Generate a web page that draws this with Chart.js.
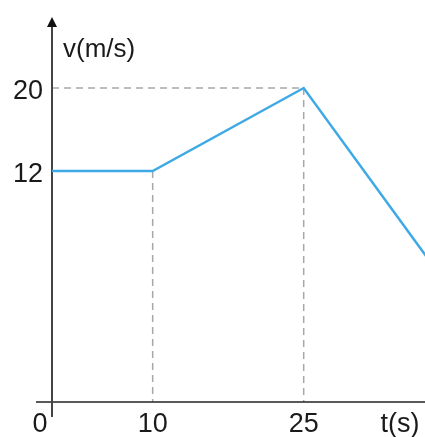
<!DOCTYPE html>
<html>
<head>
<meta charset="utf-8">
<script src="https://cdn.jsdelivr.net/npm/chart.js@4"></script>
<style>
  html, body { margin: 0; padding: 0; background: #fff; }
  canvas { display: block; }
</style>
</head>
<body>
<canvas id="vt" width="425" height="437"></canvas>
<script>
// data
const times = [0, 10, 25, 40];       // t (s)
const speeds = [12, 12, 20, 0];      // v (m/s)
const xTicks = [0, 10, 25];
const yTicks = [12, 20];
const xTitle = "t(s)";
const yTitle = "v(m/s)";

const FONT = "27px 'Liberation Sans', Arial, sans-serif";

// axes, arrow, dashed guides and labels
const axesPlugin = {
  id: "axes",
  beforeDatasetsDraw(chart) {
    const ctx = chart.ctx;
    const x = chart.scales.x, y = chart.scales.y;
    const a = chart.chartArea;
    const x0 = x.getPixelForValue(0);
    ctx.save();

    // dashed guides
    ctx.strokeStyle = "#a8a8a8";
    ctx.lineWidth = 1.5;
    ctx.setLineDash([7, 5]);
    ctx.beginPath();
    ctx.moveTo(x0, y.getPixelForValue(20));
    ctx.lineTo(x.getPixelForValue(25), y.getPixelForValue(20));
    ctx.moveTo(x.getPixelForValue(10), y.getPixelForValue(12));
    ctx.lineTo(x.getPixelForValue(10), a.bottom);
    ctx.moveTo(x.getPixelForValue(25), y.getPixelForValue(20));
    ctx.lineTo(x.getPixelForValue(25), a.bottom);
    ctx.stroke();
    ctx.setLineDash([]);

    // x axis
    ctx.strokeStyle = "#222";
    ctx.lineWidth = 1.5;
    ctx.beginPath();
    ctx.moveTo(36, a.bottom);
    ctx.lineTo(a.right, a.bottom);
    ctx.stroke();

    // y axis with arrow
    ctx.strokeStyle = "#444";
    ctx.lineWidth = 2;
    ctx.beginPath();
    ctx.moveTo(x0, a.bottom + 15);
    ctx.lineTo(x0, a.top + 8);
    ctx.stroke();
    ctx.fillStyle = "#111";
    ctx.beginPath();
    ctx.moveTo(x0, a.top - 1);
    ctx.lineTo(x0 - 5, a.top + 9);
    ctx.lineTo(x0 + 5, a.top + 9);
    ctx.closePath();
    ctx.fill();

    // labels
    ctx.fillStyle = "#1a1a1a";
    ctx.font = FONT;
    ctx.textBaseline = "alphabetic";
    ctx.textAlign = "right";
    yTicks.forEach(v => ctx.fillText(String(v), x0 - 9, y.getPixelForValue(v) + 11));
    ctx.textAlign = "center";
    xTicks.forEach(t => {
      const px = t === 0 ? x0 - 12 : x.getPixelForValue(t);
      ctx.fillText(String(t), px, a.bottom + 30);
    });
    ctx.fillText(xTitle, 400, a.bottom + 30);
    ctx.textAlign = "left";
    ctx.font = "26px 'Liberation Sans', Arial, sans-serif";
    ctx.fillText(yTitle, 63, 57);
    ctx.restore();
  }
};

new Chart(document.getElementById("vt"), {
  type: "line",
  data: {
    labels: times,
    datasets: [{
      data: times.map((t, i) => ({ x: t, y: speeds[i] })),
      borderColor: "#3fa9e6",
      borderWidth: 2.5,
      pointRadius: 0,
      tension: 0,
      fill: false
    }]
  },
  options: {
    responsive: false,
    animation: false,
    layout: { padding: { left: 52, right: 0, top: 18, bottom: 35 } },
    plugins: { legend: { display: false }, tooltip: { enabled: false } },
    scales: {
      x: { type: "linear", min: 0, max: 37.05, display: false },
      y: { type: "linear", min: -10.27, max: 26.75, display: false }
    }
  },
  plugins: [axesPlugin]
});
</script>
</body>
</html>
